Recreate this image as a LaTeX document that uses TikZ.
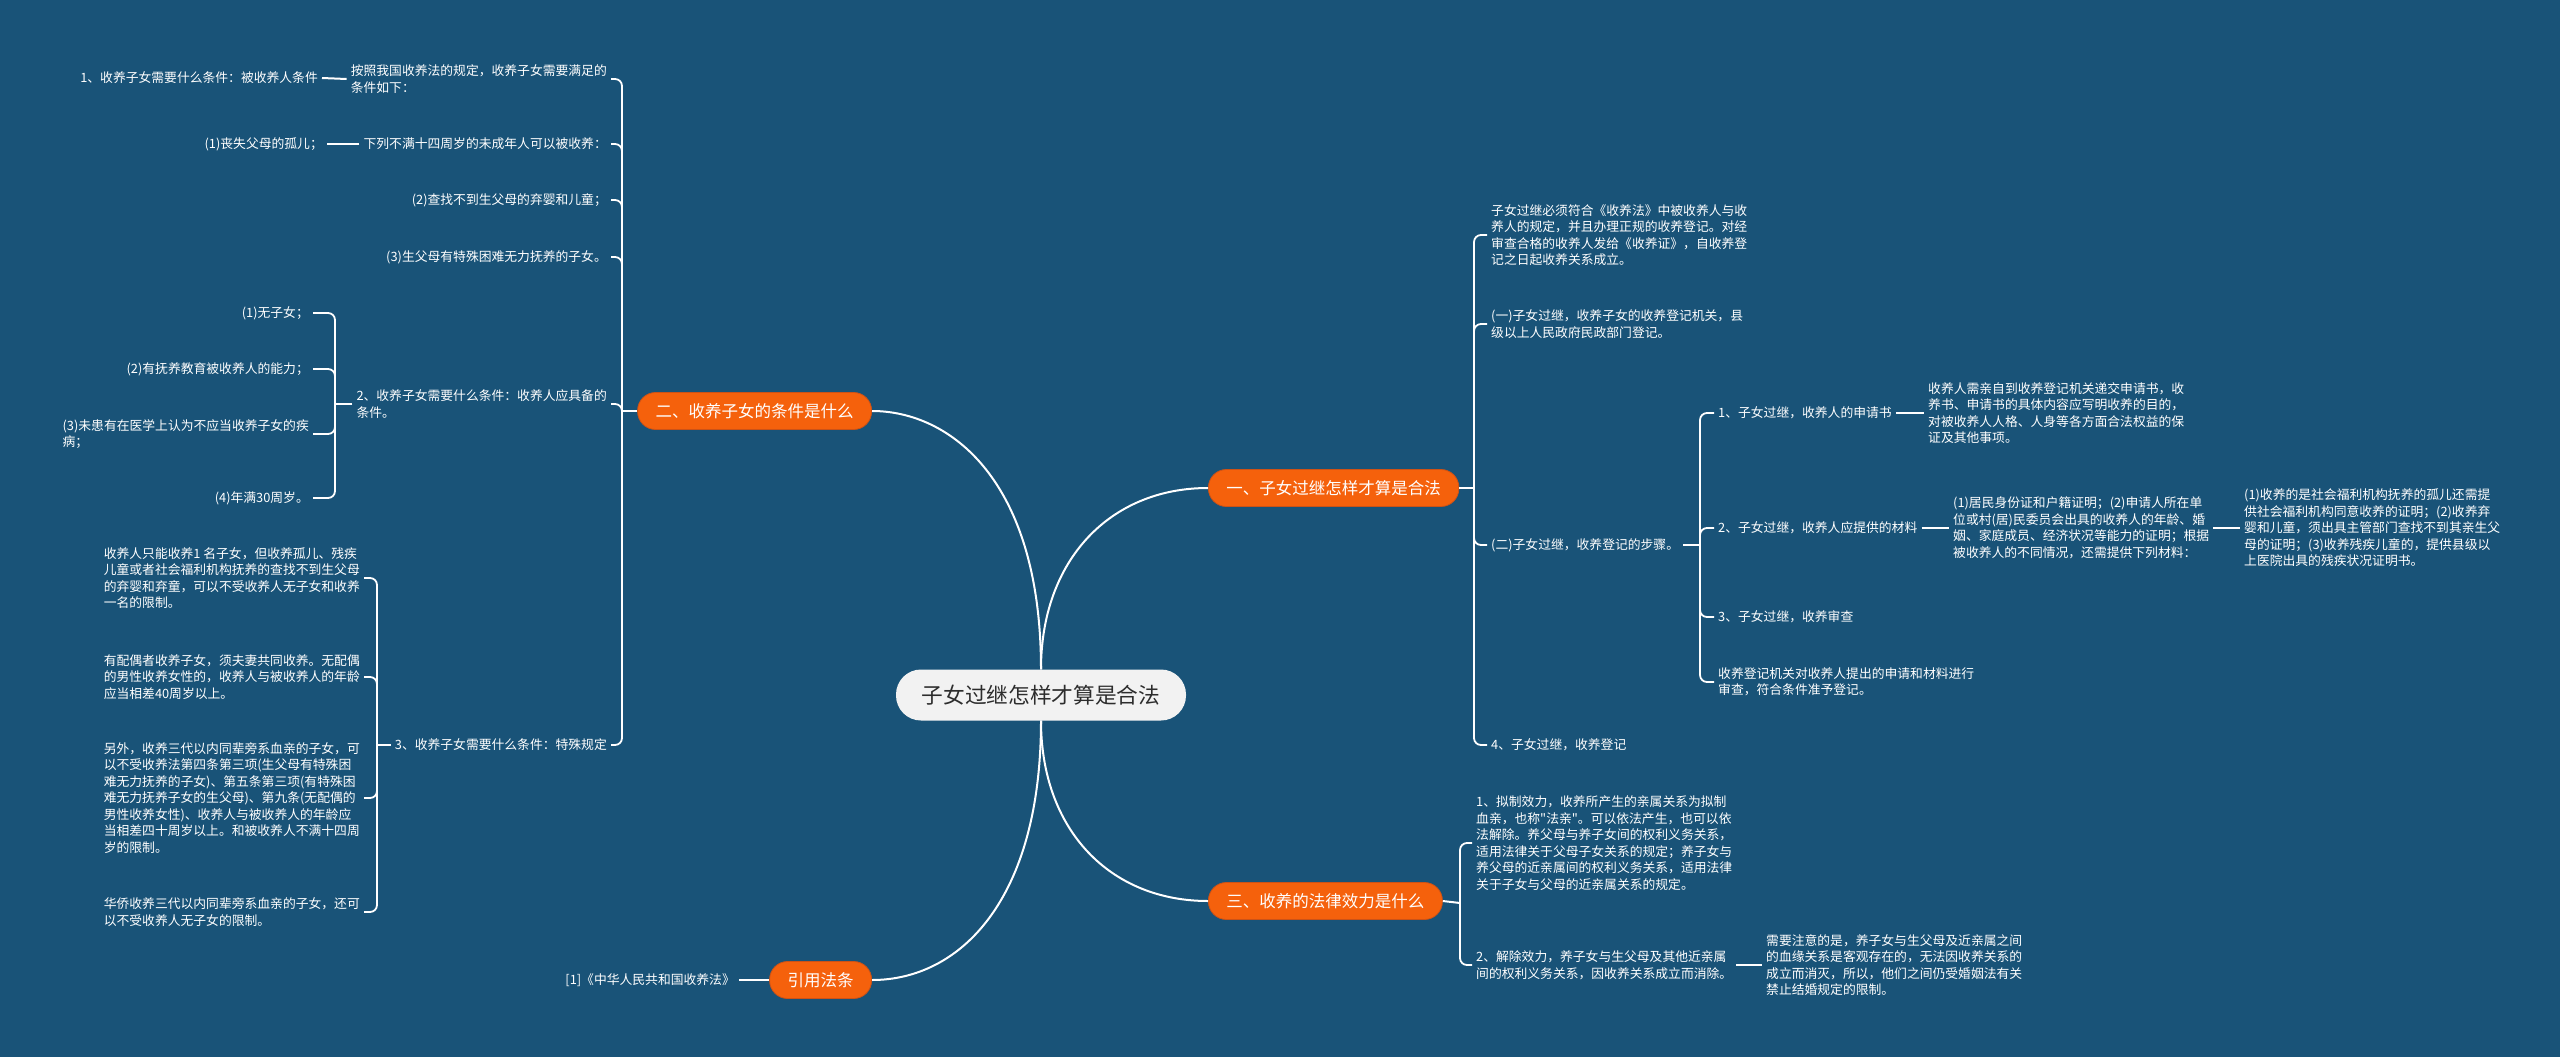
\documentclass[tikz,border=0pt]{standalone}
\usepackage{fontspec}
\setmainfont{Noto Sans CJK SC}[Ligatures=TeXOff]
\definecolor{bg}{RGB}{25,83,120}
\definecolor{org}{RGB}{245,97,12}
\definecolor{orgedge}{RGB}{205,82,22}
\definecolor{hubfill}{RGB}{242,242,242}
\definecolor{hubtext}{RGB}{45,45,45}
\begin{document}
\begin{tikzpicture}[x=1pt,y=-1pt,
  link/.style={draw=white, line width=2pt},
  brace/.style={draw=white, line width=1.8pt, rounded corners=7pt},
  leaf/.style={text=white, font=\fontsize{12.8}{16.5}\selectfont, align=left, inner xsep=4pt, inner ysep=2pt},
  branch/.style={fill=org, draw=orgedge, line width=0.8pt, text=white, font=\fontsize{16.5}{20}\selectfont, rounded corners=18pt, minimum height=37pt, inner xsep=18pt},
  hub/.style={fill=hubfill, text=hubtext, font=\fontsize{21.7}{26}\selectfont, rounded corners=25pt, minimum width=290pt, minimum height=51pt}]
\useasboundingbox (0,0) rectangle (2560,1057);
\fill[bg] (0,0) rectangle (2560,1057);

% hub and branches
\node[hub] (hub) at (1041,695) {子女过继怎样才算是合法};
\node[branch, anchor=east] (n2) at (872,411) {二、收养子女的条件是什么};
\node[branch, anchor=west] (n1) at (1208,488) {一、子女过继怎样才算是合法};
\node[branch, anchor=west] (n3) at (1208,901) {三、收养的法律效力是什么};
\node[branch, anchor=east] (n4) at (872,980) {引用法条};

\draw[link] (hub.north) .. controls (1041,480) and (950,411) .. (n2.east);
\draw[link] (hub.north) .. controls (1041,560) and (1110,488) .. (n1.west);
\draw[link] (hub.south) .. controls (1041,830) and (1110,901) .. (n3.west);
\draw[link] (hub.south) .. controls (1041,900) and (960,980) .. (n4.east);

% ---------- left: 二 ----------
\node[leaf, anchor=east] (L1) at (611,79) {按照我国收养法的规定，收养子女需要满足的\\条件如下：};
\node[leaf, anchor=east] (L1a) at (322,78) {1、收养子女需要什么条件：被收养人条件};
\node[leaf, anchor=east] (L2) at (611,144) {下列不满十四周岁的未成年人可以被收养：};
\node[leaf, anchor=east] (L2a) at (327,144) {(1)丧失父母的孤儿；};
\node[leaf, anchor=east] (L3) at (611,200) {(2)查找不到生父母的弃婴和儿童；};
\node[leaf, anchor=east] (L4) at (611,257) {(3)生父母有特殊困难无力抚养的子女。};
\node[leaf, anchor=east] (L5) at (611,404) {2、收养子女需要什么条件：收养人应具备的\\条件。};
\node[leaf, anchor=east] (L5a) at (313,313) {(1)无子女；};
\node[leaf, anchor=east] (L5b) at (313,369) {(2)有抚养教育被收养人的能力；};
\node[leaf, anchor=east] (L5c) at (313,434) {(3)未患有在医学上认为不应当收养子女的疾\\病；};
\node[leaf, anchor=east] (L5d) at (313,498) {(4)年满30周岁。};
\node[leaf, anchor=east] (L6) at (611,745) {3、收养子女需要什么条件：特殊规定};
\node[leaf, anchor=east] (L6a) at (364,578) {收养人只能收养1 名子女，但收养孤儿、残疾\\儿童或者社会福利机构抚养的查找不到生父母\\的弃婴和弃童，可以不受收养人无子女和收养\\一名的限制。};
\node[leaf, anchor=east] (L6b) at (364,677) {有配偶者收养子女，须夫妻共同收养。无配偶\\的男性收养女性的，收养人与被收养人的年龄\\应当相差40周岁以上。};
\node[leaf, anchor=east] (L6c) at (364,798) {另外，收养三代以内同辈旁系血亲的子女，可\\以不受收养法第四条第三项(生父母有特殊困\\难无力抚养的子女)、第五条第三项(有特殊困\\难无力抚养子女的生父母)、第九条(无配偶的\\男性收养女性)、收养人与被收养人的年龄应\\当相差四十周岁以上。和被收养人不满十四周\\岁的限制。};
\node[leaf, anchor=east] (L6d) at (364,912) {华侨收养三代以内同辈旁系血亲的子女，还可\\以不受收养人无子女的限制。};

\coordinate (j2) at (622,411);
\draw[link] (n2.west) -- (j2);
\foreach \c in {L1,L2,L3,L4,L5,L6} \draw[brace] (j2) |- (\c.east);
\draw[link] (L1.west) -- (L1a.east);
\draw[link] (L2.west) -- (L2a.east);
\coordinate (j5) at (335,404);
\draw[link] (L5.west) -- (j5);
\foreach \c in {L5a,L5b,L5c,L5d} \draw[brace] (j5) |- (\c.east);
\coordinate (j6) at (377,745);
\draw[link] (L6.west) -- (j6);
\foreach \c in {L6a,L6b,L6c,L6d} \draw[brace] (j6) |- (\c.east);

% ---------- right: 一 ----------
\node[leaf, anchor=west] (R1) at (1487,235) {子女过继必须符合《收养法》中被收养人与收\\养人的规定，并且办理正规的收养登记。对经\\审查合格的收养人发给《收养证》，自收养登\\记之日起收养关系成立。};
\node[leaf, anchor=west] (R2) at (1487,324) {(一)子女过继，收养子女的收养登记机关，县\\级以上人民政府民政部门登记。};
\node[leaf, anchor=west] (R3) at (1487,545) {(二)子女过继，收养登记的步骤。};
\node[leaf, anchor=west] (R4) at (1487,745) {4、子女过继，收养登记};
\node[leaf, anchor=west] (R3a) at (1714,413) {1、子女过继，收养人的申请书};
\node[leaf, anchor=west] (R3a1) at (1924,413) {收养人需亲自到收养登记机关递交申请书，收\\养书、申请书的具体内容应写明收养的目的，\\对被收养人人格、人身等各方面合法权益的保\\证及其他事项。};
\node[leaf, anchor=west] (R3b) at (1714,528) {2、子女过继，收养人应提供的材料};
\node[leaf, anchor=west] (R3b1) at (1949,528) {(1)居民身份证和户籍证明；(2)申请人所在单\\位或村(居)民委员会出具的收养人的年龄、婚\\姻、家庭成员、经济状况等能力的证明；根据\\被收养人的不同情况，还需提供下列材料：};
\node[leaf, anchor=west] (R3b2) at (2240,528) {(1)收养的是社会福利机构抚养的孤儿还需提\\供社会福利机构同意收养的证明；(2)收养弃\\婴和儿童，须出具主管部门查找不到其亲生父\\母的证明；(3)收养残疾儿童的，提供县级以\\上医院出具的残疾状况证明书。};
\node[leaf, anchor=west] (R3c) at (1714,617) {3、子女过继，收养审查};
\node[leaf, anchor=west] (R3d) at (1714,682) {收养登记机关对收养人提出的申请和材料进行\\审查，符合条件准予登记。};

\coordinate (j1) at (1474,488);
\draw[link] (n1.east) -- (j1);
\foreach \c in {R1,R2,R3,R4} \draw[brace] (j1) |- (\c.west);
\coordinate (j3) at (1700,545);
\draw[link] (R3.east) -- (j3);
\foreach \c in {R3a,R3b,R3c,R3d} \draw[brace] (j3) |- (\c.west);
\draw[link] (R3a.east) -- (R3a1.west);
\draw[link] (R3b.east) -- (R3b1.west);
\draw[link] (R3b1.east) -- (R3b2.west);

% ---------- right: 三 ----------
\node[leaf, anchor=west] (T1) at (1472,843) {1、拟制效力，收养所产生的亲属关系为拟制\\血亲，也称"法亲"。可以依法产生，也可以依\\法解除。养父母与养子女间的权利义务关系，\\适用法律关于父母子女关系的规定；养子女与\\养父母的近亲属间的权利义务关系，适用法律\\关于子女与父母的近亲属关系的规定。};
\node[leaf, anchor=west] (T2) at (1472,965) {2、解除效力，养子女与生父母及其他近亲属\\间的权利义务关系，因收养关系成立而消除。};
\node[leaf, anchor=west] (T2a) at (1762,965) {需要注意的是，养子女与生父母及近亲属之间\\的血缘关系是客观存在的，无法因收养关系的\\成立而消灭，所以，他们之间仍受婚姻法有关\\禁止结婚规定的限制。};
\coordinate (jt) at (1460,903);
\draw[link] (n3.east) -- (jt);
\foreach \c in {T1,T2} \draw[brace] (jt) |- (\c.west);
\draw[link] (T2.east) -- (T2a.west);

% ---------- 引用法条 ----------
\node[leaf, anchor=east] (C1) at (739,980) {[1]《中华人民共和国收养法》};
\draw[link] (n4.west) -- (C1.east);
\end{tikzpicture}
\end{document}
